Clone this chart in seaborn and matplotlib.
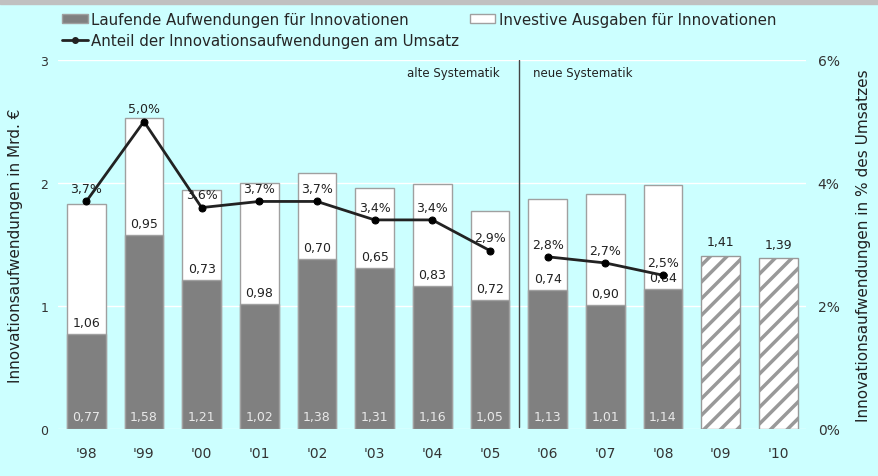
import numpy as np
import pandas as pd
import matplotlib
matplotlib.use("Agg")
import matplotlib.pyplot as plt
import seaborn as sns
from matplotlib.lines import Line2D
from matplotlib.patches import Patch, Rectangle

# ---- data ----
years = ["'98", "'99", "'00", "'01", "'02", "'03", "'04", "'05", "'06", "'07", "'08", "'09", "'10"]
laufende = [0.77, 1.58, 1.21, 1.02, 1.38, 1.31, 1.16, 1.05, 1.13, 1.01, 1.14]
investiv = [1.06, 0.95, 0.73, 0.98, 0.70, 0.65, 0.83, 0.72, 0.74, 0.90, 0.84]
prognose = [1.41, 1.39]          # '09, '10 (planned, hatched)
anteil_alt = [3.7, 5.0, 3.6, 3.7, 3.7, 3.4, 3.4, 2.9]   # '98-'05
anteil_neu = [2.8, 2.7, 2.5]                             # '06-'08

bg = "#CCFFFF"
grey = "#808080"
edge = "#A0A0A0"

sns.set_style("white", {"axes.facecolor": bg, "figure.facecolor": bg})
plt.rcParams["font.family"] = ["DejaVu Sans"]
plt.rcParams["hatch.linewidth"] = 2.5
plt.rcParams["hatch.color"] = "#999999"

totals = [a + b for a, b in zip(laufende, investiv)] + prognose
df = pd.DataFrame({"jahr": years,
                   "gesamt": totals,
                   "laufend": laufende + [np.nan] * len(prognose)})

fig = plt.figure(figsize=(8.79, 4.77), dpi=100)
ax = fig.add_axes([58 / 879, 1 - 430 / 477, 748 / 879, 369 / 477])

# top grey band
fig.patches.append(Rectangle((0, 1 - 5 / 477), 1, 5 / 477, transform=fig.transFigure,
                             color="#C0C0C0", zorder=0))

# ---- bars ----
sns.barplot(data=df, x="jahr", y="gesamt", order=years, color="white", width=0.67,
            edgecolor=edge, linewidth=1, saturation=1, errorbar=None, ax=ax)
sns.barplot(data=df, x="jahr", y="laufend", order=years, color=grey, width=0.67,
            edgecolor=edge, linewidth=1, saturation=1, errorbar=None, ax=ax)

n_ist = len(laufende)
for p in ax.patches[n_ist:len(years)]:
    p.set_hatch("//")
    p.set_edgecolor("#999999")

fmt = lambda v: f"{v:.2f}".replace(".", ",")
for i, (l, v) in enumerate(zip(laufende, investiv)):
    ax.text(i, 0.1, fmt(l), ha="center", va="center", fontsize=9, color="#E8E8E8")
    ax.text(i, l + 0.04, fmt(v), ha="center", va="bottom", fontsize=9, color="#222222")
for j, v in enumerate(prognose):
    ax.text(n_ist + j, v + 0.06, fmt(v), ha="center", va="bottom", fontsize=9, color="#222222")

xlim = (-0.49, 12.48)
ax.set_ylim(0, 3)
ax.set_yticks([0, 1, 2, 3])
ax.set_xlim(*xlim)
ax.grid(axis="y", color="white", lw=1)
ax.set_axisbelow(True)
ax.set_xlabel("")
ax.set_ylabel("Innovationsaufwendungen in Mrd. €", fontsize=11, color="#222222")
ax.yaxis.set_label_coords(-0.047, 0.5)
ax.tick_params(axis="y", length=0, pad=7, labelsize=9, labelcolor="#333333")
ax.tick_params(axis="x", length=0, pad=12, labelsize=10, labelcolor="#333333")
sns.despine(ax=ax, left=True, bottom=True)

# separator old/new methodology
ax.plot([7.5, 7.5], [0.02, 3], color="#444444", lw=1)
ax.text(7.17, 2.9, "alte Systematik", ha="right", va="center", fontsize=8.5, color="#222222")
ax.text(7.74, 2.9, "neue Systematik", ha="left", va="center", fontsize=8.5, color="#222222")

# ---- share line ----
ax2 = ax.twinx()
x_alt = list(range(len(anteil_alt)))
x_neu = list(range(len(anteil_alt), len(anteil_alt) + len(anteil_neu)))
for xs, ys in [(x_alt, anteil_alt), (x_neu, anteil_neu)]:
    sns.lineplot(x=xs, y=ys, ax=ax2, color="#222222", lw=2, marker="o", markersize=5,
                 markeredgecolor="#000000", markerfacecolor="#000000")
    for xi, yi in zip(xs, ys):
        ax2.annotate(f"{yi:.1f}%".replace(".", ","), (xi, yi), xytext=(0, 4.5),
                     textcoords="offset points", ha="center", va="bottom",
                     fontsize=9, color="#222222")
ax2.set_ylim(0, 6)
ax2.set_yticks([0, 2, 4, 6])
ax2.set_yticklabels(["0%", "2%", "4%", "6%"])
ax2.set_xlim(*xlim)
ax2.grid(False)
ax2.tick_params(axis="y", length=0, pad=8.5, labelsize=10, labelcolor="#333333")
ax2.set_ylabel("Innovationsaufwendungen in % des Umsatzes", fontsize=11, color="#222222",
               rotation=90)
ax2.yaxis.set_label_coords(1.067, 0.5)
sns.despine(ax=ax2, left=True, bottom=True, right=True)

# ---- legend (two blocks, like the original) ----
leg_kw = dict(frameon=False, handlelength=1.7, handleheight=0.55, handletextpad=0.25,
              labelspacing=0.4, borderpad=0, borderaxespad=0,
              prop={"family": "DejaVu Sans", "size": 10.8})
h_lauf = Patch(facecolor=grey, edgecolor=edge, label="Laufende Aufwendungen für Innovationen")
h_ant = Line2D([0], [0], color="#222222", lw=2, marker="o", markersize=4,
               label="Anteil der Innovationsaufwendungen am Umsatz")
h_inv = Patch(facecolor="white", edgecolor=edge, label="Investive Ausgaben für Innovationen")
fig.legend(handles=[h_lauf, h_ant], loc="upper left",
           bbox_to_anchor=(62 / 879, 1 - 13 / 477), **leg_kw)
fig.legend(handles=[h_inv], loc="upper left",
           bbox_to_anchor=(470 / 879, 1 - 13 / 477), **leg_kw)

fig.savefig("out.png", dpi=100, facecolor=bg)
